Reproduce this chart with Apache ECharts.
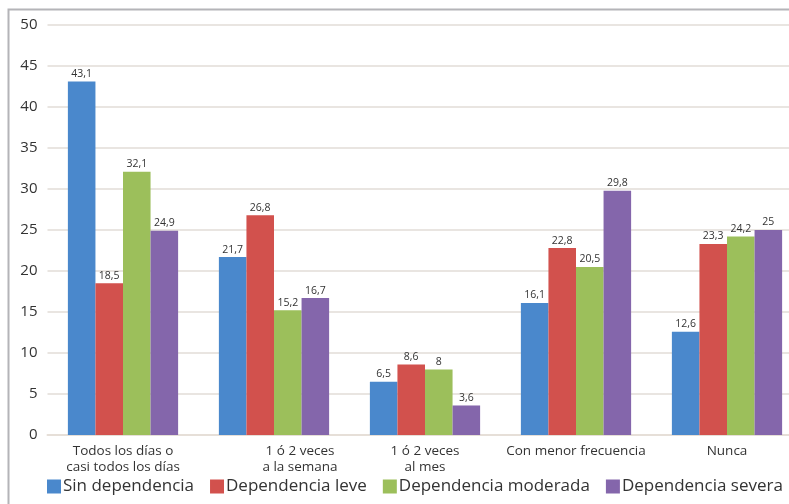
<!DOCTYPE html>
<html>
<head>
<meta charset="utf-8">
<script src="https://cdn.jsdelivr.net/npm/echarts@6/dist/echarts.min.js"></script>
<style>
  html, body { margin: 0; padding: 0; background: #ffffff; overflow: hidden; }
  #chart { width: 830px; height: 504px; }
</style>
</head>
<body>
<div id="chart"></div>
<script>
// Frequency categories on the x axis
const categories = [
  'Todos los días o\ncasi todos los días',
  '1 ó 2 veces\na la semana',
  '1 ó 2 veces\nal mes',
  'Con menor frecuencia',
  'Nunca'
];

// Series names (dependency level)
const seriesNames = ['Sin dependencia', 'Dependencia leve', 'Dependencia moderada', 'Dependencia severa'];

// Percentages per series, one value per category
const sinDependencia = [43.1, 21.7, 6.5, 16.1, 12.6];
const dependenciaLeve = [18.5, 26.8, 8.6, 22.8, 23.3];
const dependenciaModerada = [32.1, 15.2, 8, 20.5, 24.2];
const dependenciaSevera = [24.9, 16.7, 3.6, 29.8, 25];

const seriesValues = [sinDependencia, dependenciaLeve, dependenciaModerada, dependenciaSevera];
const seriesColors = ['#4a88cc', '#d2514d', '#9cbf5b', '#8466ab'];

const chart = echarts.init(document.getElementById('chart'), null, { renderer: 'canvas' });

const fmt = v => String(v).replace('.', ',');

chart.setOption({
  animation: false,
  backgroundColor: '#ffffff',
  textStyle: { fontFamily: '"Open Sans", "DejaVu Sans", sans-serif' },
  graphic: [
    {
      type: 'polyline',
      shape: { points: [[8.5, 520], [8.5, 9.5], [840, 9.5]] },
      style: { stroke: '#b4b4b8', lineWidth: 2, fill: null },
      silent: true
    }
  ],
  legend: {
    bottom: 4,
    left: 42,
    itemWidth: 14,
    itemHeight: 14,
    itemGap: 16,
    icon: 'rect',
    textStyle: {
      fontSize: 17,
      color: '#333333',
      padding: [0, 0, 0, -3]
    },
    data: seriesNames
  },
  grid: {
    left: 47.5,
    top: 25,
    width: 755,
    bottom: 69,
    containLabel: false
  },
  xAxis: {
    type: 'category',
    data: categories,
    axisLine: { show: true, lineStyle: { color: '#e6dfd8', width: 2 } },
    axisTick: { show: false },
    axisLabel: {
      color: '#333333',
      fontSize: 13.5,
      lineHeight: 16,
      margin: 8,
      interval: 0,
      formatter: (v, i) => i === 1
        ? v.split('\n').map(l => '{o|' + l + '}').join('\n')
        : v,
      rich: {
        o: { fontSize: 13.5, color: '#333333', padding: [0, 0, 0, 52] }
      }
    }
  },
  yAxis: {
    type: 'value',
    min: 0,
    max: 50,
    interval: 5,
    axisLine: { show: false },
    axisTick: { show: false },
    axisLabel: { color: '#333333', fontSize: 15, margin: 10 },
    splitLine: { lineStyle: { color: '#e9e5e1', width: 2 } }
  },
  series: seriesNames.map((name, i) => ({
    name,
    type: 'bar',
    data: seriesValues[i],
    barGap: '0%',
    barCategoryGap: '27%',
    itemStyle: { color: seriesColors[i] },
    label: {
      show: true,
      position: 'top',
      distance: 2,
      fontSize: 10.5,
      color: '#333333',
      formatter: p => fmt(p.value)
    }
  }))
});
</script>
</body>
</html>
